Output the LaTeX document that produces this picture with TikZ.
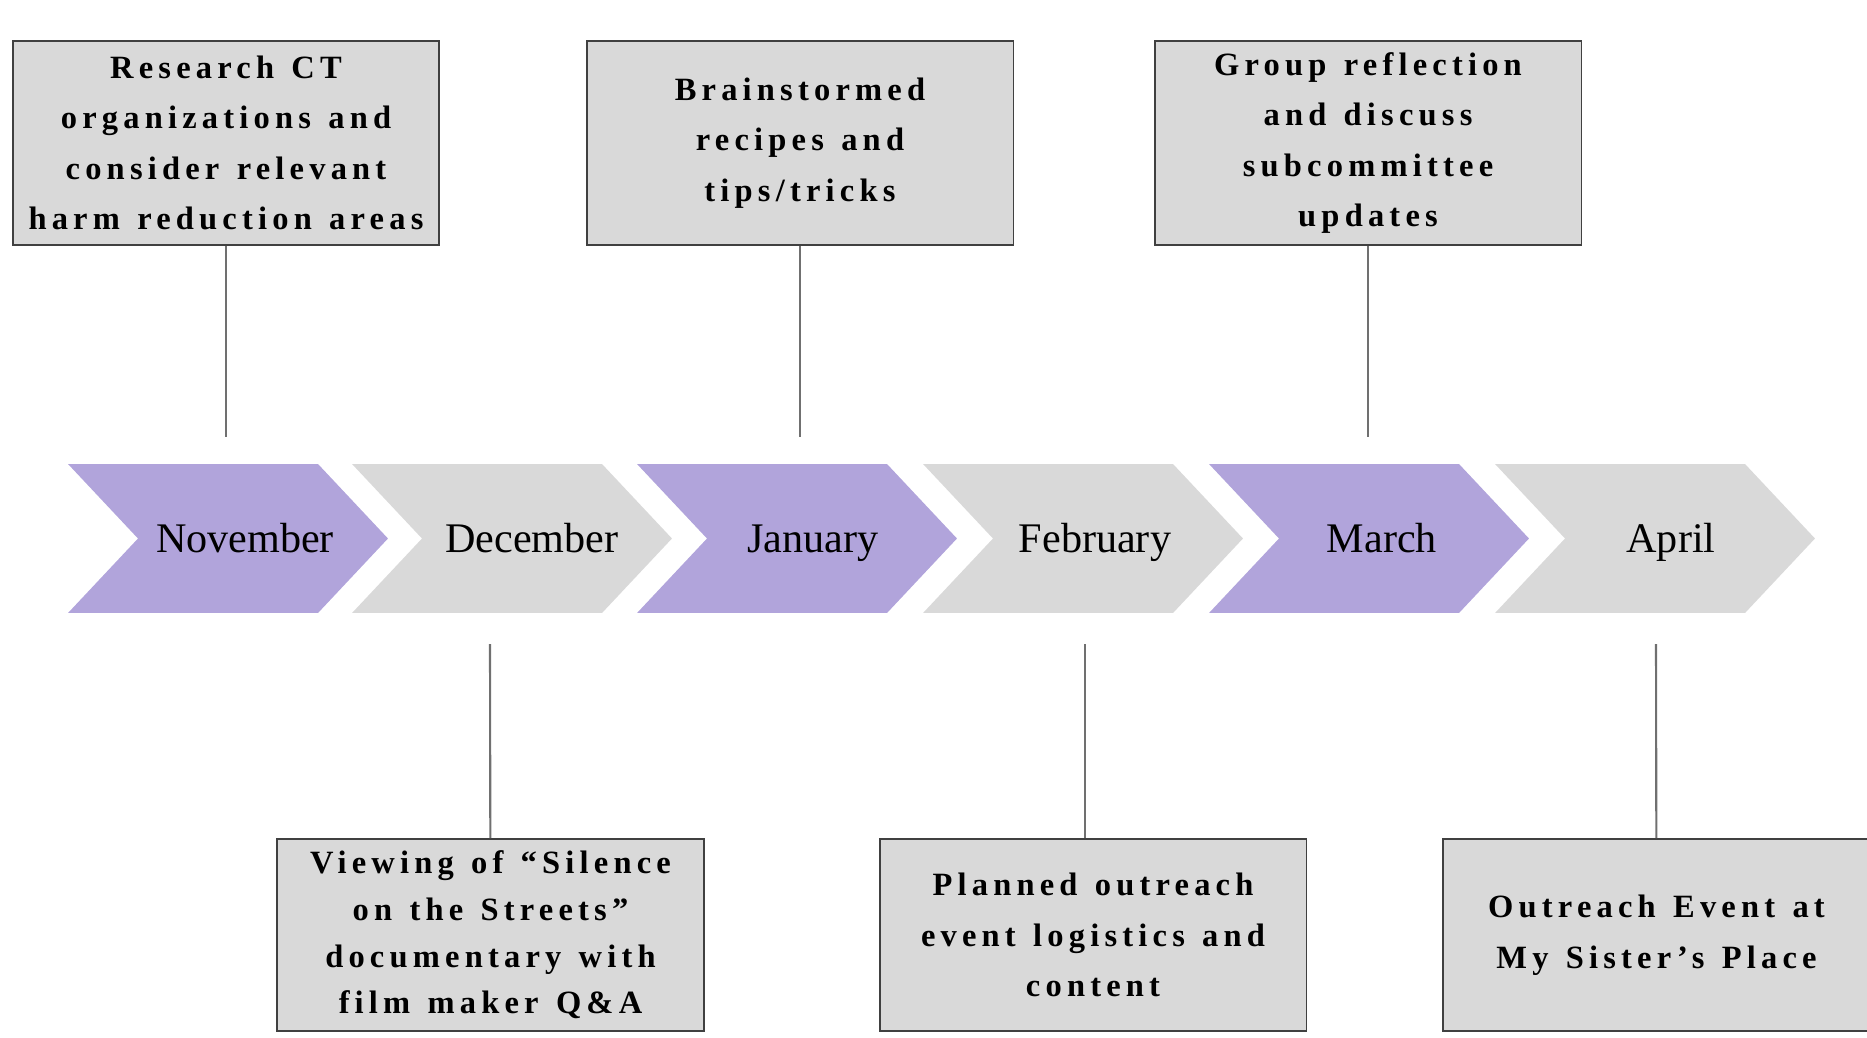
\documentclass[tikz,border=0pt]{standalone}
\usepackage{fontspec}
\setmainfont{Liberation Serif}
\newfontfamily\boxfont[LetterSpace=16,WordSpace=1.3]{Liberation Serif}
\usetikzlibrary{shapes.symbols}
\definecolor{lilac}{HTML}{B1A4DB}
\definecolor{pale}{HTML}{D9D9D9}
\definecolor{edgegray}{HTML}{404040}
\definecolor{linegray}{HTML}{707070}

\begin{document}
\begin{tikzpicture}[x=0.02cm,y=-0.02cm,
    stem/.style={draw=linegray, line width=1.2pt}]

      \useasboundingbox (0,0) rectangle (1867,1038);

      % the month arrows
      \begin{scope}[every node/.style={signal, signal from=west, signal to=east,
          signal pointer angle=93.6, minimum width=6.4cm, minimum height=2.98cm,
          inner sep=0pt}]
        \node[fill=lilac] (c1) at (228,538.5)  {};
        \node[fill=pale]  (c2) at (512,538.5)  {};
        \node[fill=lilac] (c3) at (797,538.5)  {};
        \node[fill=pale]  (c4) at (1083,538.5) {};
        \node[fill=lilac] (c5) at (1369,538.5) {};
        \node[fill=pale]  (c6) at (1655,538.5) {};
      \end{scope}

      \begin{scope}[every node/.style={anchor=base, font=\fontsize{24}{28}\selectfont}]
        \node (nov) at (245,552)  {November};
        \node (dec) at (532,552)  {December};
        \node (jan) at (813,552)  {January};
        \node (feb) at (1095,552) {February};
        \node (mar) at (1382,552) {March};
        \node (apr) at (1671,552) {April};
      \end{scope}

      % the boxes
      \begin{scope}[every node/.style={draw=edgegray, line width=1.1pt, fill=pale,
          align=center, minimum width=8.54cm, inner sep=0pt,
          font=\boxfont\bfseries\fontsize{18.5}{28.8}\selectfont}]
        \node[minimum height=4.08cm] (1) at (226,143)
          {Research CT\\organizations and\\consider relevant\\harm reduction areas};
        \node[minimum height=4.08cm] (2) at (800,143)
          {Brainstormed\\recipes and\\tips/tricks};
        \node[minimum height=4.08cm] (3) at (1368,143)
          {Group reflection\\and discuss\\subcommittee\\updates};
        \node[minimum height=3.84cm, font=\boxfont\bfseries\fontsize{18.5}{26.5}\selectfont] (4) at (490.5,935)
          {Viewing of “Silence\\on the Streets”\\documentary with\\film maker Q\&A};
        \node[minimum height=3.84cm] (5) at (1093,935)
          {Planned outreach\\event logistics and\\content};
        \node[minimum height=3.84cm] (6) at (1656.5,935)
          {Outreach Event at\\My Sister’s Place};
      \end{scope}

      % the stems
      \coordinate (t1) at (226,437);
      \coordinate (t2) at (800,437);
      \coordinate (t3) at (1368,437);
      \coordinate (t4) at (490,644);
      \coordinate (t5) at (1085,644);
      \coordinate (t6) at (1656,644);

      \path[stem] (1) -- (t1);
      \path[stem] (2) -- (t2);
      \path[stem] (3) -- (t3);
      \path[stem] (t4) -- (4);
      \path[stem] (t5) -- (t5 |- 5.north);
      \path[stem] (t6) -- (6);

    \end{tikzpicture}
\end{document}
